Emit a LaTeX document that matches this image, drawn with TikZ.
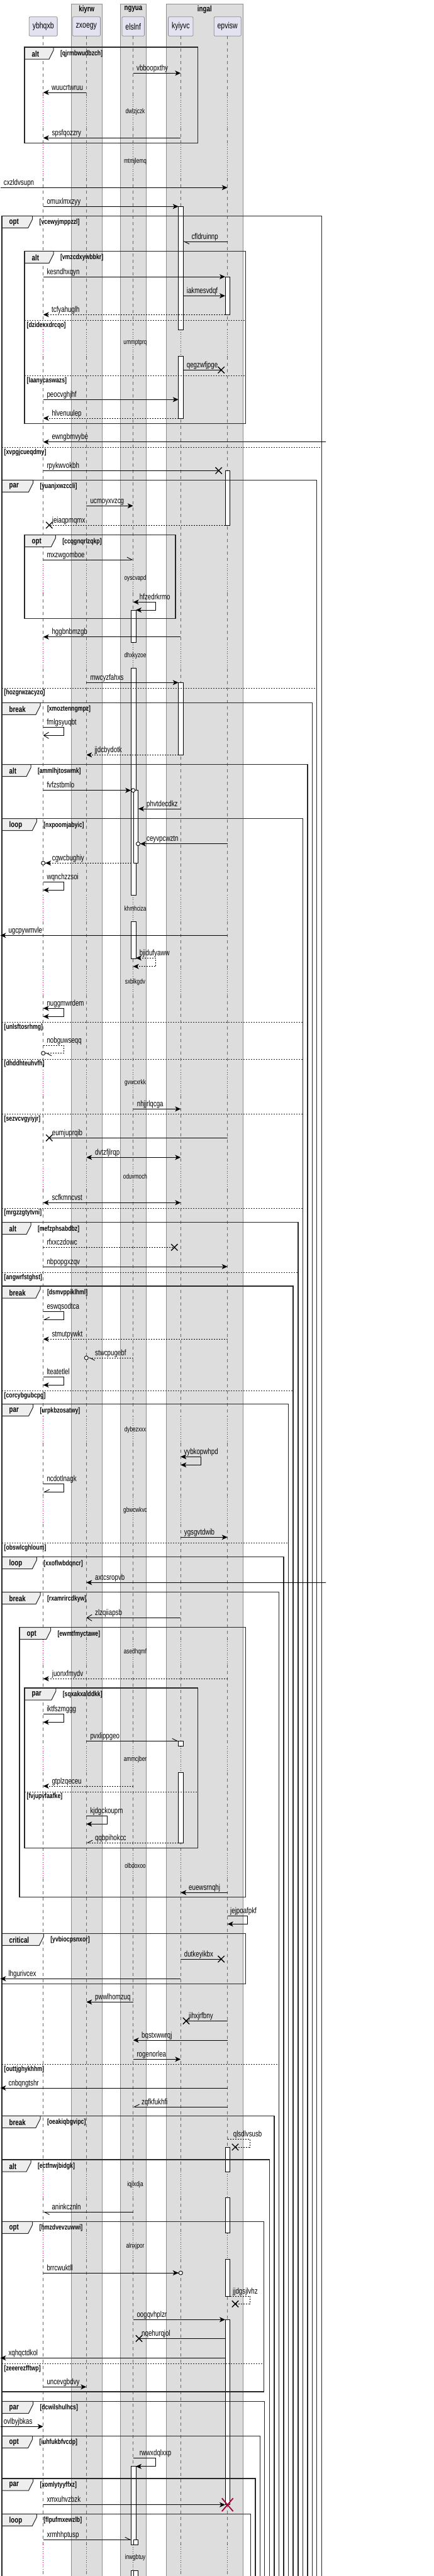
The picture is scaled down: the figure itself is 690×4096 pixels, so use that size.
\documentclass[tikz,border=0pt]{standalone}
\usepackage{fontspec}
\setmainfont{Liberation Sans}[FakeStretch=0.75]
\usetikzlibrary{arrows.meta,shapes.misc}

\definecolor{partfill}{HTML}{E2E2F0}
\definecolor{boxfill}{HTML}{DDDDDD}
\definecolor{tabfill}{HTML}{EEEEEE}
\definecolor{lifered}{HTML}{A80036}

% message from lifeline #2 to lifeline #3 at height #4, label starts at x=#5
\newcommand{\seqmsg}[6][]{%
  \draw[msgline,#1] (#2 |- 0,#4) -- (#3 |- 0,#4);
  \node[msglabel] (#6) at (#5,#4) {#6};}
% message that goes back to its own lifeline
\newcommand{\seqself}[8][]{%
  \draw[msgline,#1] (#2 |- 0,#4) -- ++(#3,0) |- (#6 |- 0,#5);
  \node[msglabel] (#8) at (#7,#4) {#8};}

\begin{document}
\begin{tikzpicture}[x=1pt,y=-1pt]
    \tikzstyle{colbox}=[fill=boxfill,draw=black!45,line width=0.7pt]
    \tikzstyle{coltitle}=[font=\fontsize{13}{15}\selectfont\bfseries,inner sep=0pt]
    \tikzstyle{participant}=[draw=black!45,fill=partfill,rounded corners=2pt,minimum height=30.6pt,inner xsep=5.5pt,line width=0.8pt,font=\fontsize{14}{16}\selectfont]
    \tikzstyle{lifeline}=[draw=black!60,line width=0.7pt,dash pattern=on 5pt off 5pt]
    \tikzstyle{delayline}=[draw=lifered,line width=0.8pt,dash pattern=on 1pt off 2.5pt]
    \tikzstyle{delaytext}=[inner sep=0pt,font=\fontsize{11}{13}\selectfont]
    \tikzstyle{actbox}=[draw=black,fill=white,line width=0.8pt]
    \tikzstyle{framebox}=[draw=black!85,line width=1.4pt]
    \tikzstyle{tabbox}=[draw=black!85,line width=1pt,fill=tabfill]
    \tikzstyle{tabtext}=[anchor=west,inner sep=0pt,font=\fontsize{13}{15}\selectfont\bfseries]
    \tikzstyle{guardtext}=[anchor=west,inner sep=0pt,font=\fontsize{11.6}{13}\selectfont\bfseries]
    \tikzstyle{sepline}=[draw=black!85,line width=0.7pt,dash pattern=on 2pt off 2pt]
    \tikzstyle{msglabel}=[anchor=base west,yshift=4pt,inner sep=0pt,font=\fontsize{13}{15}\selectfont]
    \tikzstyle{msgline}=[line width=0.9pt,-{Stealth[length=9pt,width=8pt,inset=2.5pt]}]
    \tikzstyle{dsh}=[dash pattern=on 2pt off 2pt]
    \tikzstyle{halfl}=[-{Straight Barb[harpoon,length=8pt,width=8pt]}]
    \tikzstyle{halfr}=[-{Straight Barb[harpoon,swap,length=8pt,width=8pt]}]
    \tikzstyle{openhead}=[-{Straight Barb[length=8pt,width=10pt]}]
    \tikzstyle{twoway}=[{Stealth[length=9pt,width=8pt,inset=2.5pt]}-{Stealth[length=9pt,width=8pt,inset=2.5pt]}]
    \tikzstyle{circ}=[-{Stealth[length=9pt,width=8pt,inset=2.5pt]Circle[length=7pt,fill=white]}]
    \tikzstyle{halfcirc}=[-{Straight Barb[harpoon,length=8pt,width=8pt]Circle[length=7pt,fill=white]}]
    \tikzstyle{lostx}=[cross out,draw=black,line width=1.3pt,minimum size=9pt,inner sep=0pt]
    \tikzstyle{destroyx}=[cross out,draw=lifered,line width=1.8pt,minimum width=16pt,minimum height=19pt,inner sep=0pt]

    \useasboundingbox (0,0) rectangle (690,4096);
    \clip (0,0) rectangle (690,4096);

    % Draw the grey boxes
    \foreach \name/\xl/\xr in {kiyrw/113.3/162.3, ngyua/191.3/232.7, ingal/264.7/386} {
        \draw[colbox] (\xl,6) rectangle (\xr,4110);
        \node[coltitle] (\name) at ({(\xl+\xr)/2},14.7) {\name};
    }

    % Draw the participants
    \foreach \name/\x in {ybhqxb/68.7, zxoegy/137.3, elslnf/211.7, kyiyvc/287.3, epvisw/361.7}
        \node[participant] (\name) at (\x,42) {\name};

    % edges of the activation bars and of the page
    \coordinate (lft) at (0.5,0);
    \coordinate (rgt) at (518.3,0);
    \coordinate (elslnf-L) at (208.7,0);
    \coordinate (elslnf-R) at (216,0);
    \coordinate (elslnf-RR) at (220,0);
    \coordinate (kyiyvc-L) at (283.7,0);
    \coordinate (kyiyvc-R) at (291,0);
    \coordinate (epvisw-L) at (358,0);
    \coordinate (epvisw-R) at (365.7,0);

    % Draw the lifelines, dotted where there is a delay
    \foreach \name in {ybhqxb,zxoegy,elslnf,kyiyvc,epvisw} {
        \foreach \a/\b in {57.3/151.7, 203.3/230, 283/524.3, 566.7/896.7, 943.3/1021.7,
            1062.7/1423.3, 1465/1541, 1582/1701, 1742/1851, 1891/2252, 2295/2381,
            2423/2606.7, 2646.7/2776.7, 2818.3/2946.7, 2986.7/3453.3, 3494.3/3550.7,
            3592.3/4046, 4087.7/4110}
            \draw[lifeline] (\name |- 0,\a) -- (\name |- 0,\b);
        \foreach \a/\b in {151.7/203.3, 230/283, 524.3/566.7, 896.7/943.3, 1021.7/1062.7,
            1423.3/1465, 1541/1582, 1701/1742, 1851/1891, 2252/2295, 2381/2423,
            2606.7/2646.7, 2776.7/2818.3, 2946.7/2986.7, 3453.3/3494.3, 3550.7/3592.3,
            4046/4087.7}
            \draw[delayline] (\name |- 0,\a) -- (\name |- 0,\b);
    }
    \foreach \a/\b/\t in {151.7/203.3/dwlzjczk, 230/283/mtmjlemq, 524.3/566.7/ummptprq,
        896.7/943.3/oyscvapd, 1021.7/1062.7/dhxkyzoe, 1423.3/1465/khmhciza,
        1541/1582/sxblkgdv, 1701/1742/gvwcxrkk, 1851/1891/oduvmoch, 2252/2295/dybezxxx,
        2381/2423/gbwcwkvc, 2606.7/2646.7/asedhqmf, 2776.7/2818.3/ammcjber,
        2946.7/2986.7/olbdoxoo, 3453.3/3494.3/iqjlxdja, 3550.7/3592.3/alnxjpor,
        4046/4087.7/inwgbtuy}
        \node[delaytext] (\t) at (215,{(\a+\b)/2}) {\t};

    % Draw the activation bars
    \foreach \xl/\a/\b in {283.7/328.3/524.3, 283.7/566.7/665, 283.7/1085.3/1200.3,
        283.7/2768.3/2776.7, 283.7/2818.3/2930, 358/440/500.3, 358/748.3/835,
        358/3414.3/3453.3, 358/3494.3/3550.7, 358/3592.3/3651, 358/3688.3/3982.7,
        208.7/970/1021.7, 208.7/1062.7/1423.3, 208.7/1465/1524, 208.7/3921.7/4046,
        208.7/4087.7/4110, 212.3/1256.7/1372.3, 212.3/4038.3/4046, 212.3/4087.7/4110}
        \draw[actbox] (\xl,\a) rectangle ({\xl+7.3},\b);

    % Draw the fragments
    \foreach \xl/\yt/\xr/\yb/\kind/\tw/\g in {
        39/75/314.7/227.7/alt/46/qjrmbwudbzch,
        3/343.3/511.7/4110/opt/48.7/vcewyjmppzzl,
        39/399.3/390.7/673.3/alt/46/vmzcdxywbbkr,
        3/763.3/503.3/4110/par/49.5/yuanjxwzccli,
        39/850.7/279/983.3/opt/49.3/ccqgnqrlzqkp,
        3/1117.3/496.7/4110/break/61/xmoztenngmpz,
        3/1215.7/489/4110/alt/46/ammlhjtoswmk,
        3/1301.7/481.7/4110/loop/55.3/nxpoomjabyic,
        3/1943.7/474/4110/alt/46/mefzphsabdbz,
        3/2045/466/4110/break/61/dsmvppiklhml,
        3/2232.7/458.7/4110/par/49.5/urpkbzosatwy,
        3/2475.7/451/4110/loop/55.3/xxoflwbdqncr,
        3/2531.7/443.3/4110/break/61/rxamrircdkyw,
        31/2587.7/390.7/3016.7/opt/49.5/ewmtfmyctawe,
        39/2684/314.7/2938.3/par/49.8/sqxakxalddkk,
        3/3074.3/390.7/3154.3/critical/66.3/yvbiocpsnxor,
        3/3364.3/436/4110/break/61/oeakiqbgvipc,
        3/3434/428.3/4110/alt/46/ectfnwjbidgk,
        3/3532.3/419.3/3803/opt/48.7/hmzdvevzuwwi,
        3/3818.3/420.7/4110/par/49.5/dcwilshulhcs,
        3/3873.3/413.3/4110/opt/48.7/iuhfukbfvcdp,
        3/3941/406/4110/par/49.5/xomlytyyffxz,
        3/3997.3/398.3/4110/loop/55.3/flpufmxewzlb} {
        \draw[tabbox] (\xl,\yt) -- ++(\tw,0) -- ++(0,5) -- ++(-7,14) -- (\xl,{\yt+19}) -- cycle;
        \draw[framebox] (\xl,\yb) |- (\xr,\yt) -- (\xr,\yb) -- cycle;
        \node[tabtext] (\g-tab) at ({\xl+11.5},{\yt+10.5}) {\kind};
        \node[guardtext] (\g) at ({\xl+\tw+10.8},{\yt+10.5}) {[\g]};
    }
    \foreach \xl/\xr/\y/\g in {3/511.7/711.7/xvpgjcueqdmy, 39/390.7/509.3/dzidexxdrcqo,
        39/390.7/597.3/laanycaswazs, 3/503.3/1094/hozgrwzacyzo, 3/481.7/1625.7/unlsftosrhmg,
        3/481.7/1684/dhddhteuhvfh, 3/481.7/1771.7/sezvcvgyiyjr, 3/481.7/1921/mrgzzgtytvni,
        3/474/2023.3/angwrfstghst, 3/466/2211.3/corcybgubcpg, 3/458.7/2453.3/obswlcghloum,
        39/314.7/2849/fvjupvfaafke, 3/443.3/3282.7/outtjghykhhm, 3/419.3/3758.3/zeeerezfftwp} {
        \draw[sepline] (\xl,\y) -- (\xr,\y);
        \node[guardtext] (\g) at ({\xl+3.5},{\y+7.7}) {[\g]};
    }

    % Draw the plain messages
    \foreach \a/\b/\y/\lx/\t in {elslnf/kyiyvc/116.3/217/vbboopxthy,
        zxoegy/ybhqxb/147/82/wuucrtwruu, kyiyvc/ybhqxb/219.3/82.3/spsfqozzry,
        lft/epvisw/298.3/5.7/cxzldvsupn, ybhqxb/kyiyvc-L/328.3/74.3/omuxlmxzyy,
        ybhqxb/epvisw-L/440/74.3/kesndhxqyn, kyiyvc-R/epvisw-L/470.3/296.7/iakmesvdqf,
        ybhqxb/kyiyvc-L/635.3/74.3/peocvghjhf, rgt/ybhqxb/702.7/82.3/ewngbmvybe,
        zxoegy/elslnf/804.3/143.3/ucmoyxvzcg, kyiyvc/ybhqxb/1012.7/82.3/hggbnbmzgb,
        zxoegy/kyiyvc-L/1085.3/143.3/mwcyzfahxs, kyiyvc/elslnf-RR/1286/233/phvtdecdkz,
        epvisw/lft/1487.3/13.3/ugcpywmvle, elslnf/kyiyvc/1763.3/217.7/nhjjrlqcga,
        ybhqxb/epvisw/2014/74.3/nbpopgxzqv, kyiyvc/epvisw/2444.3/292.7/ygsgvtdwib,
        rgt/zxoegy/2516.3/151/axtcsropvb, epvisw/kyiyvc/3009.3/300/euewsrnqhj,
        kyiyvc/lft/3146.3/13.3/lhgurivcex, elslnf/zxoegy/3183.3/151/pwwlhomzuq,
        epvisw/elslnf/3244/225/bqstxwwrqj, elslnf/kyiyvc/3274.3/217.3/rogenorlea,
        epvisw/lft/3320/13.3/cnbqngtshr, elslnf/epvisw-L/3688.3/217.3/oogqvhplzr,
        epvisw-L/lft/3749.3/13.3/xqhqctdkol, ybhqxb/zxoegy/3795.3/74.3/uncevgbdvy,
        lft/ybhqxb/3858.3/5.7/ovlbyjbkas, ybhqxb/epvisw-L/3982.7/74.3/xmxuhvzbzk} {
        \seqmsg{\a}{\b}{\y}{\lx}{\t}
    }

    % Draw the replies
    \foreach \a/\b/\y/\lx/\t in {epvisw-L/ybhqxb/500.3/82/tcfyahuglh,
        kyiyvc-L/ybhqxb/665/82.3/hlvenuulep, kyiyvc-L/zxoegy/1200.3/150.3/jjdcbydotk,
        epvisw/ybhqxb/2129.3/82.3/stmutpywkt, epvisw/ybhqxb/2669.3/82.7/juonxfmydv,
        elslnf/ybhqxb/2840/82.3/gtplzqeceu} {
        \seqmsg[dsh]{\a}{\b}{\y}{\lx}{\t}
    }

    % Draw the lost messages
    \foreach \a/\xx/\y/\lx/\t in {kyiyvc-R/351.7/588.3/296.7/qegzwfjpge,
        ybhqxb/347.7/748.3/74.3/rpykwvokbh, epvisw/78.3/1809.3/82.7/eumjuprqib,
        kyiyvc/351.7/3115/292.7/dutkeyikbx, epvisw/296/3213.3/300/jihxjrfbny,
        epvisw-L/221/3718.3/225/nqehurqjol} {
        \node[lostx] (\t-x) at (\xx,\y) {};
        \seqmsg[-]{\a}{\t-x}{\y}{\lx}{\t}
    }
    \foreach \a/\xx/\y/\lx/\t in {epvisw-L/78.3/835/82.7/jeiaqpmqmx,
        ybhqxb/277.3/1983.3/74.3/rfxxczdowc} {
        \node[lostx] (\t-x) at (\xx,\y) {};
        \seqmsg[-,dsh]{\a}{\t-x}{\y}{\lx}{\t}
    }

    % other arrow heads
    \seqmsg[halfl]{epvisw}{kyiyvc-R}{384}{304.3}{cfldruinnp}
    \seqmsg[halfl]{ybhqxb}{elslnf}{890}{74.3}{mxzwgomboe}
    \seqmsg[halfl]{zxoegy}{kyiyvc-L}{2768.3}{143.3}{pvxlippgeo}
    \seqmsg[halfl]{elslnf}{ybhqxb}{3517.3}{82.3}{aninkcznln}
    \seqmsg[halfl]{ybhqxb}{elslnf-L}{4038.3}{74.3}{xrmhhptusp}
    \seqmsg[halfr]{epvisw}{elslnf}{3350}{225}{zqfkfukhfi}
    \seqmsg[halfr,dsh]{kyiyvc-L}{zxoegy}{2930}{151}{qqbpihokcc}
    \seqmsg[openhead]{kyiyvc}{zxoegy}{2572.3}{151}{zlzqiiapsb}
    \seqmsg[twoway]{zxoegy}{kyiyvc}{1840.3}{151}{dvtzfjlrqp}
    \seqmsg[twoway]{ybhqxb}{kyiyvc}{1912.3}{82.3}{scfkmncvst}
    \seqmsg[circ,shorten >=-3.5pt]{ybhqxb}{elslnf}{1256.7}{74.3}{fvfzstbmlo}
    \seqmsg[circ]{epvisw}{elslnf-R}{1341.7}{233}{ceyvpcwztn}
    \seqmsg[circ,dsh,shorten >=-3.5pt]{elslnf-L}{ybhqxb}{1372.3}{82.7}{cgwcbughiy}
    \seqmsg[circ,shorten >=-3.5pt]{ybhqxb}{kyiyvc}{3614}{74.3}{brrcwuktll}
    \seqmsg[halfcirc,dsh,shorten >=-3.5pt]{elslnf}{zxoegy}{2159}{151}{stwcpugebf}

    % Draw the self messages
    \seqself[openhead]{ybhqxb}{32.3}{1156.3}{1169.3}{ybhqxb}{74.3}{fmlgsyuqbt}
    \seqself{ybhqxb}{32.3}{1402.3}{1415.3}{ybhqxb}{74.3}{wqnchzzsoi}
    \seqself[twoway]{ybhqxb}{32.3}{1603.3}{1616.3}{ybhqxb}{74.3}{nuggmwrdem}
    \seqself[halfcirc,dsh,shorten >=-3.5pt]{ybhqxb}{32.3}{1662.3}{1674.7}{ybhqxb}{74.3}{nobguwseqq}
    \seqself[halfr]{ybhqxb}{32.3}{2085.3}{2098.3}{ybhqxb}{74.3}{eswqsodtca}
    \seqself{ybhqxb}{32.3}{2189.3}{2202.3}{ybhqxb}{74.3}{lteatetlel}
    \seqself[halfr]{ybhqxb}{32.3}{2359.3}{2372.3}{ybhqxb}{74.3}{ncdotlnagk}
    \seqself{ybhqxb}{32.3}{2725.3}{2738.3}{ybhqxb}{74.3}{iktfszmggg}
    \seqself[twoway]{elslnf}{36}{957.3}{970}{elslnf-R}{221.7}{hfzedrkrmo}
    \seqself[twoway,dsh]{elslnf-R}{31.7}{1523.3}{1536.7}{elslnf}{221.7}{bjidufyaww}
    \seqself{elslnf}{36}{3908.3}{3921.7}{elslnf-R}{221.7}{rwwxdqlxxp}
    \seqself[twoway]{kyiyvc}{31.7}{2316.3}{2329.3}{kyiyvc}{292.3}{vybkopwhpd}
    \seqself{zxoegy}{32.7}{2887.7}{2900.3}{zxoegy}{143.3}{kjdgckoupm}
    \seqself{epvisw}{31.7}{3046.7}{3059.3}{epvisw}{366}{jejpoafpkf}
    \node[lostx] (qlsdlvsusb-x) at (374,3414) {};
    \seqself[-,dsh]{epvisw}{35.7}{3401.7}{3414}{qlsdlvsusb-x}{370.7}{qlsdlvsusb}
    \node[lostx] (jjdgsjlvhz-x) at (374,3663.3) {};
    \seqself[-,dsh]{epvisw-R}{31.7}{3651}{3663.3}{jjdgsjlvhz-x}{370}{jjdgsjlvhz}

    % epvisw is destroyed
    \node[destroyx] (xmxuhvzbzk-x) at (361.7,3982.7) {};
\end{tikzpicture}
\end{document}
